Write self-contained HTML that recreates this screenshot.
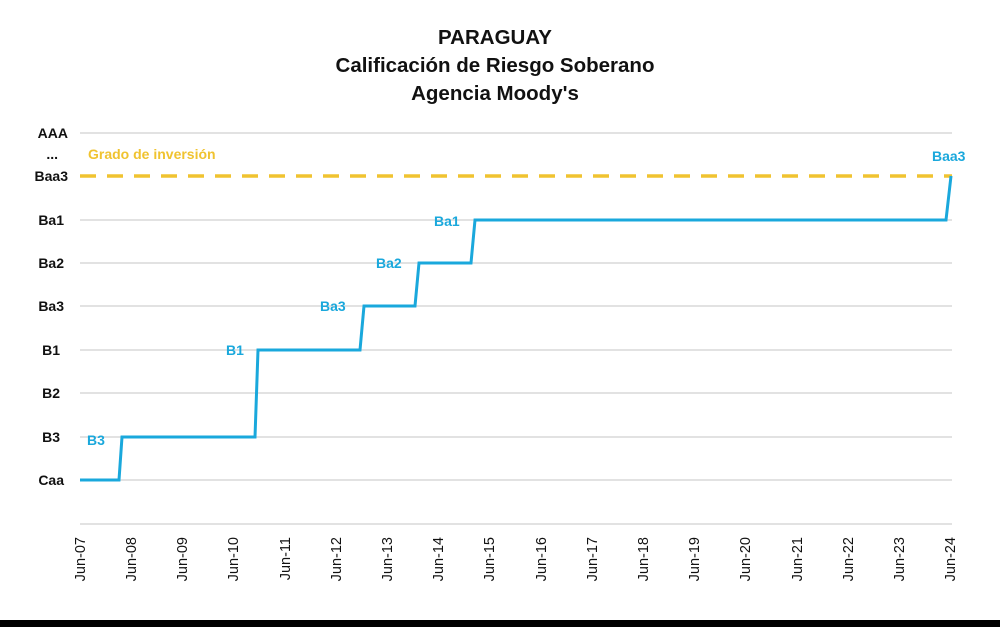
<!DOCTYPE html>
<html><head><meta charset="utf-8"><style>
body{margin:0;background:#fff;width:1000px;height:627px;overflow:hidden;font-family:"Liberation Sans",sans-serif}
</style></head><body>
<svg width="1000" height="627" xmlns="http://www.w3.org/2000/svg" font-family="Liberation Sans, sans-serif">
<rect width="1000" height="627" fill="#fff"/>
<g font-weight="bold" font-size="20.5" text-anchor="middle" fill="#111">
<text x="495" y="44">PARAGUAY</text>
<text x="495" y="72">Calificación de Riesgo Soberano</text>
<text x="495" y="100">Agencia Moody's</text>
</g>
<g stroke="#d9d9d9" stroke-width="1.5">
<line x1="80" x2="952" y1="133" y2="133"/>
<line x1="80" x2="952" y1="220" y2="220"/>
<line x1="80" x2="952" y1="263" y2="263"/>
<line x1="80" x2="952" y1="306" y2="306"/>
<line x1="80" x2="952" y1="350" y2="350"/>
<line x1="80" x2="952" y1="393" y2="393"/>
<line x1="80" x2="952" y1="437" y2="437"/>
<line x1="80" x2="952" y1="480" y2="480"/>
<line x1="80" x2="952" y1="524" y2="524"/>
</g>
<line x1="80" x2="952" y1="176" y2="176" stroke="#f0c330" stroke-width="3.5" stroke-dasharray="16,11"/>
<text x="88" y="159" font-size="14" font-weight="bold" fill="#f0c330">Grado de inversión</text>
<g font-size="14" font-weight="bold" fill="#111" text-anchor="end">
<text x="68" y="138">AAA</text>
<text x="58" y="159">...</text>
<text x="68" y="181">Baa3</text>
<text x="64" y="225">Ba1</text>
<text x="64" y="268">Ba2</text>
<text x="64" y="311">Ba3</text>
<text x="60" y="355">B1</text>
<text x="60" y="398">B2</text>
<text x="60" y="442">B3</text>
<text x="64" y="485">Caa</text>
</g>
<polyline fill="none" stroke="#1aa8dc" stroke-width="3" points="80,480 119,480 122,437 255,437 258,350 360,350 364,306 415,306 419,263 471,263 475,220 946,220 951,176"/>
<g font-size="14" font-weight="bold" fill="#1aa8dc">
<text x="87" y="445">B3</text>
<text x="226" y="355">B1</text>
<text x="320" y="311">Ba3</text>
<text x="376" y="268">Ba2</text>
<text x="434" y="226">Ba1</text>
<text x="932" y="161">Baa3</text>
</g>
<g font-size="14.5" fill="#111" text-anchor="end">
<text transform="translate(85,537) rotate(-90)">Jun-07</text>
<text transform="translate(136,537) rotate(-90)">Jun-08</text>
<text transform="translate(187,537) rotate(-90)">Jun-09</text>
<text transform="translate(238,537) rotate(-90)">Jun-10</text>
<text transform="translate(290,537) rotate(-90)">Jun-11</text>
<text transform="translate(341,537) rotate(-90)">Jun-12</text>
<text transform="translate(392,537) rotate(-90)">Jun-13</text>
<text transform="translate(443,537) rotate(-90)">Jun-14</text>
<text transform="translate(494,537) rotate(-90)">Jun-15</text>
<text transform="translate(546,537) rotate(-90)">Jun-16</text>
<text transform="translate(597,537) rotate(-90)">Jun-17</text>
<text transform="translate(648,537) rotate(-90)">Jun-18</text>
<text transform="translate(699,537) rotate(-90)">Jun-19</text>
<text transform="translate(750,537) rotate(-90)">Jun-20</text>
<text transform="translate(802,537) rotate(-90)">Jun-21</text>
<text transform="translate(853,537) rotate(-90)">Jun-22</text>
<text transform="translate(904,537) rotate(-90)">Jun-23</text>
<text transform="translate(955,537) rotate(-90)">Jun-24</text>
</g>
<rect x="0" y="620" width="1000" height="7" fill="#000"/>
</svg>
</body></html>
